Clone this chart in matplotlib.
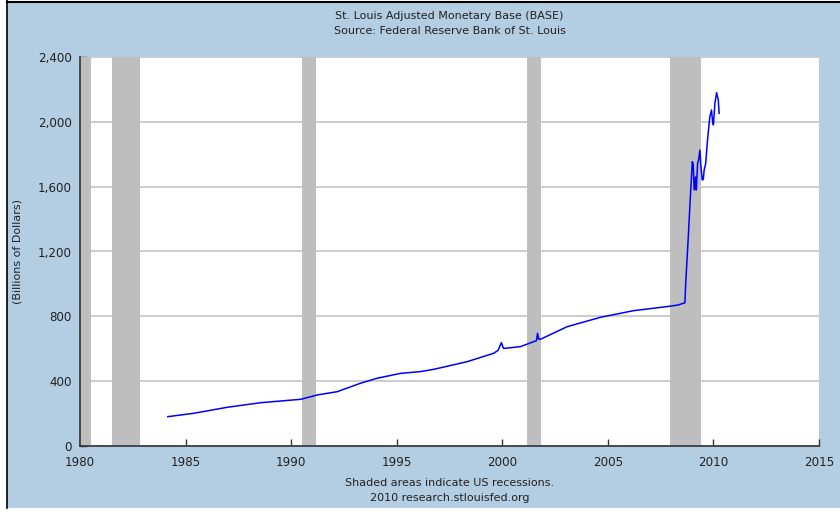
import matplotlib
matplotlib.use("Agg")
import matplotlib.pyplot as plt
from matplotlib.patches import Rectangle
from matplotlib.lines import Line2D

# monetary base, billions of dollars
years = [1984.16, 1985.40, 1986.98, 1988.55, 1990.45, 1991.24, 1992.18, 1993.28,
         1994.07, 1995.18, 1996.12, 1996.75, 1998.33, 1999.59, 1999.80, 1999.96,
         2000.05, 2000.15, 2000.86, 2001.49, 2001.62, 2001.67, 2001.72, 2001.80,
         2003.07, 2004.65, 2006.22, 2007.80, 2008.33, 2008.65, 2008.68, 2008.73,
         2008.81, 2008.89, 2009.00, 2009.04, 2009.09, 2009.15, 2009.19, 2009.25,
         2009.29, 2009.36, 2009.41, 2009.47, 2009.52, 2009.56, 2009.63, 2009.72,
         2009.79, 2009.83, 2009.91, 2009.96, 2010.00, 2010.07, 2010.15, 2010.23,
         2010.27]
base = [181, 202, 239, 267, 288, 315, 335, 387,
        418, 448, 459, 473, 520, 572, 590, 638,
        603, 603, 613, 644, 650, 695, 660, 658,
        736, 794, 835, 860, 870, 884, 983, 1106,
        1291, 1497, 1754, 1740, 1580, 1660, 1580, 1744,
        1760, 1826, 1720, 1641, 1645, 1703, 1740, 1888,
        1981, 2032, 2073, 2001, 1981, 2114, 2180, 2135,
        2053]

# NBER recessions (peak, trough)
rec_start = [1980.0, 1981.5, 1990.5, 2001.17, 2007.92]
rec_end = [1980.5, 1982.83, 1991.17, 2001.83, 2009.42]

xticks = [1980, 1985, 1990, 1995, 2000, 2005, 2010, 2015]
yticks = [0, 400, 800, 1200, 1600, 2000, 2400]

bg = '#b3cde3'
txt = '#222222'

fig = plt.figure(figsize=(8.4, 5.12), dpi=100)
fig.patch.set_facecolor('white')
W, H = 840, 512
fig.patches.append(Rectangle((7 / W, 4 / H), 1 - 7 / W, 1 - 6 / H,
                             transform=fig.transFigure, facecolor=bg,
                             edgecolor='none', zorder=-2))
fig.lines.append(Line2D([6.5 / W, 6.5 / W], [4 / H, 1], transform=fig.transFigure,
                        color='black', lw=1.2))
fig.lines.append(Line2D([6.5 / W, 1], [1 - 1.5 / H, 1 - 1.5 / H],
                        transform=fig.transFigure, color='black', lw=1.5))

ax = fig.add_axes([80 / W, 1 - 446 / H, (819 - 80) / W, (446 - 57) / H])
ax.set_facecolor('white')

for s, e in zip(rec_start, rec_end):
    ax.axvspan(s, e, color='#bebebe', lw=0, zorder=1)

ax.plot(years, base, color='#0000ff', lw=1.1, zorder=3)

ax.set_xlim(1980, 2015)
ax.set_ylim(0, 2400)
ax.set_xticks(xticks)
ax.set_yticks(yticks)
ax.set_yticklabels([f'{v:,}' for v in yticks])
ax.yaxis.grid(True, color='#cccccc', lw=1.4, zorder=0)
ax.set_axisbelow(True)
ax.tick_params(direction='in', length=5, width=1, color='#333333',
               labelsize=8.6, labelcolor=txt)
ax.tick_params(axis='x', pad=7)
ax.tick_params(axis='y', pad=6)

for side in ['top', 'right']:
    ax.spines[side].set_visible(False)
for side in ['left', 'bottom']:
    ax.spines[side].set_color('#333333')
    ax.spines[side].set_linewidth(1.2)
    ax.spines[side].set_zorder(4)

fig.text(18 / W, 1 - 251 / H, '(Billions of Dollars)', rotation=90,
         ha='center', va='center', fontsize=8, color=txt)

cx = (80 + 819) / 2 / W
fig.text(cx, 1 - 16 / H, 'St. Louis Adjusted Monetary Base (BASE)',
         ha='center', va='center', fontsize=8, color=txt)
fig.text(cx, 1 - 31 / H, 'Source: Federal Reserve Bank of St. Louis',
         ha='center', va='center', fontsize=8, color=txt)
fig.text(cx, 1 - 483 / H, 'Shaded areas indicate US recessions.',
         ha='center', va='center', fontsize=8, color=txt)
fig.text(cx, 1 - 498 / H, '2010 research.stlouisfed.org',
         ha='center', va='center', fontsize=8, color=txt)

fig.savefig('out.png', dpi=100, facecolor=fig.get_facecolor())
